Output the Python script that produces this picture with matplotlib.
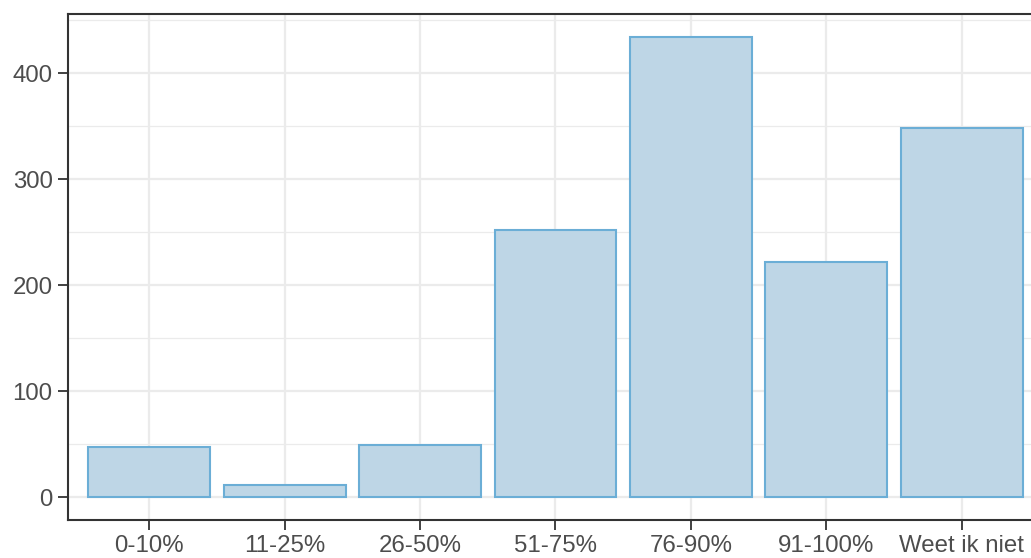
import matplotlib.pyplot as plt
import matplotlib.ticker as mticker

categories = ['0-10%', '11-25%', '26-50%', '51-75%', '76-90%', '91-100%', 'Weet ik niet']
counts = [47, 11, 49, 252, 434, 222, 348]

plt.rcParams['font.family'] = ['Liberation Sans', 'DejaVu Sans']

fig = plt.figure(figsize=(10.31, 5.58), dpi=100)
# panel runs a little past the right edge of the picture, like the reference crop
ax = fig.add_axes([68 / 1031, 1 - 520 / 558, 975 / 1031, 506 / 558])

x = list(range(1, len(categories) + 1))
ax.bar(x, counts, width=0.9, color='#BED6E6', edgecolor='#6BAED6', linewidth=1.5, zorder=3)

ax.set_xlim(0.4, 7.6)
ymax = max(counts)
ax.set_ylim(-0.05 * ymax, 1.05 * ymax)

ax.set_xticks(x)
ax.set_xticklabels(categories)
ax.set_yticks([0, 100, 200, 300, 400])
ax.yaxis.set_minor_locator(mticker.MultipleLocator(50))

ax.grid(True, which='major', color='#EBEBEB', linewidth=1.6, zorder=0)
ax.grid(True, which='minor', axis='y', color='#EBEBEB', linewidth=0.9, zorder=0)
ax.set_axisbelow(True)

for s in ax.spines.values():
    s.set_color('#333333')
    s.set_linewidth(1.5)

ax.tick_params(axis='both', which='major', length=7, width=1.3, color='#333333',
               labelsize=17.3, labelcolor='#4D4D4D', pad=4)
ax.tick_params(axis='y', which='minor', length=0)

fig.savefig('out.png', dpi=100)
